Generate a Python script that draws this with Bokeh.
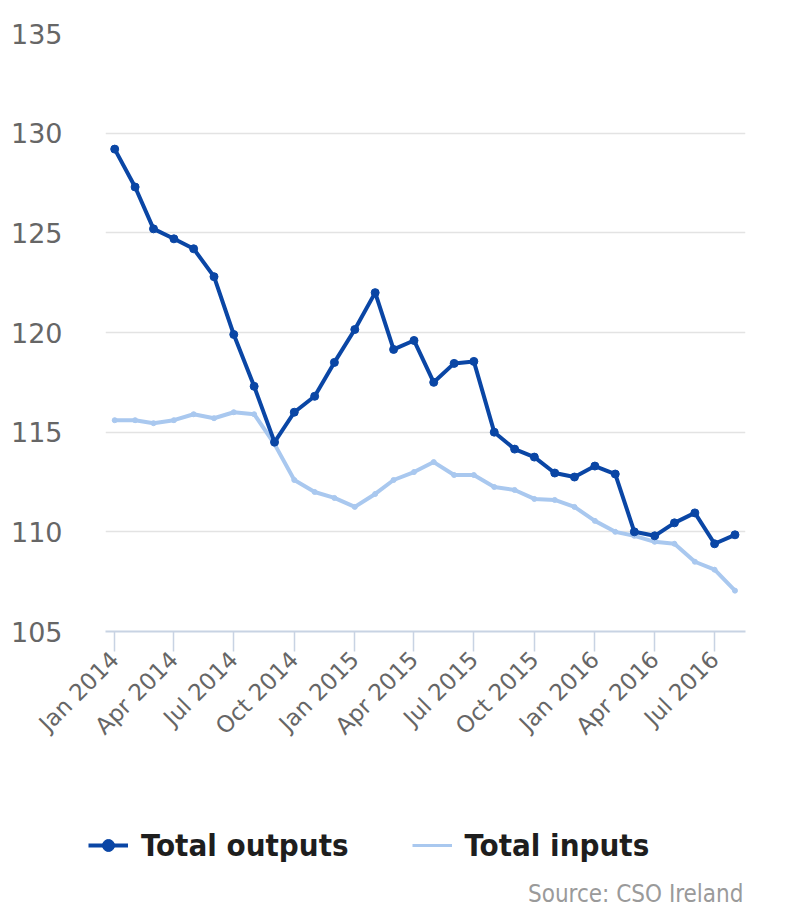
import math
from datetime import datetime
import pandas as pd
from bokeh.plotting import figure
from bokeh.layouts import column, row
from bokeh.models import (ColumnDataSource, Range1d, MonthsTicker, DatetimeTickFormatter,
                          SingleIntervalTicker, Legend, LegendItem, Label)
from bokeh.embed import file_html
from bokeh.resources import INLINE

# ---- data ----
months = pd.date_range("2014-01-01", periods=32, freq="MS")
total_outputs = [129.2, 127.3, 125.2, 124.7, 124.2, 122.8, 119.9, 117.3, 114.5, 116.0,
                 116.8, 118.5, 120.15, 122.0, 119.15, 119.6, 117.5, 118.45, 118.55, 115.0,
                 114.15, 113.75, 112.95, 112.75, 113.3, 112.9, 110.0, 109.8, 110.45, 110.95,
                 109.4, 109.85]
total_inputs = [115.6, 115.6, 115.45, 115.6, 115.9, 115.7, 116.0, 115.9, 114.4, 112.6,
                112.0, 111.7, 111.25, 111.9, 112.6, 113.0, 113.5, 112.85, 112.85, 112.25,
                112.1, 111.65, 111.6, 111.25, 110.55, 110.0, 109.8, 109.5, 109.4, 108.5,
                108.1, 107.05]
series_names = ["Total outputs", "Total inputs"]
source_text = "Source: CSO Ireland"

dark = "#0a46a5"
light = "#a9c8ef"
grey = "#666666"

src = ColumnDataSource(dict(x=months, out=total_outputs, inp=total_inputs))

p = figure(width=782, height=790, output_backend="svg", toolbar_location=None,
           x_axis_type="datetime",
           x_range=Range1d(datetime(2013, 12, 18), datetime(2016, 8, 17)),
           y_range=Range1d(105, 135),
           min_border_left=105, min_border_right=37, min_border_top=33, min_border_bottom=159)
p.outline_line_color = None
p.background_fill_color = "white"
p.border_fill_color = "white"

# grid
p.xgrid.grid_line_color = None
p.ygrid.grid_line_color = "#e3e3e3"
p.ygrid.grid_line_width = 1.5

# y axis
p.yaxis.ticker = SingleIntervalTicker(interval=5)
p.yaxis.axis_line_color = None
p.yaxis.major_tick_line_color = None
p.yaxis.minor_tick_line_color = None
p.yaxis.major_label_standoff = 37
p.yaxis.major_label_text_font = "DejaVu Sans"
p.yaxis.major_label_text_font_size = "27px"
p.yaxis.major_label_text_color = grey

# x axis
p.xaxis.ticker = MonthsTicker(months=[0, 3, 6, 9])
p.xaxis.formatter = DatetimeTickFormatter(months="%b %Y", days="%b %Y")
p.xaxis.axis_line_color = "#c8d3e3"
p.xaxis.axis_line_width = 2
p.xaxis.major_tick_line_color = "#c8d3e3"
p.xaxis.major_tick_line_width = 1.5
p.xaxis.major_tick_out = 20
p.xaxis.major_tick_in = 0
p.xaxis.minor_tick_line_color = None
p.xaxis.major_label_orientation = math.pi / 4
p.xaxis.major_label_standoff = 4
p.xaxis.major_label_text_font = "DejaVu Sans"
p.xaxis.major_label_text_font_size = "23px"
p.xaxis.major_label_text_color = grey

# series
p.line("x", "inp", source=src, line_color=light, line_width=4)
p.scatter("x", "inp", source=src, size=5, fill_color=light, line_color=light)
p.line("x", "out", source=src, line_color=dark, line_width=4)
p.scatter("x", "out", source=src, size=8, fill_color=dark, line_color=dark)

# ---- legend + source strip ----
q = figure(width=782, height=124, output_backend="svg", toolbar_location=None,
           x_range=Range1d(0, 1), y_range=Range1d(0, 1),
           min_border_left=0, min_border_right=0, min_border_top=0, min_border_bottom=0)
q.outline_line_color = None
q.axis.visible = False
q.grid.visible = False
nan = [float("nan")]
lo = q.line(x=nan, y=nan, line_color=dark, line_width=4)
so = q.scatter(x=nan, y=nan, size=7, fill_color=dark, line_color=dark)
li = q.line(x=nan, y=nan, line_color=light, line_width=3)

legend = Legend(items=[LegendItem(label=series_names[0], renderers=[lo, so]),
                       LegendItem(label=series_names[1], renderers=[li])],
                orientation="horizontal", location=(88, 51),
                padding=0, margin=0, border_line_color=None, background_fill_alpha=0,
                glyph_width=40, glyph_height=30, label_height=30, label_standoff=13,
                spacing=63, label_text_font="DejaVu Sans Condensed",
                label_text_font_style="bold", label_text_font_size="31px",
                label_text_color="#1e1e1e")
q.add_layout(legend)

q.add_layout(Label(x=743, y=21, x_units="screen", y_units="screen", text=source_text,
                   text_align="right", text_baseline="middle",
                   text_font="DejaVu Sans Condensed", text_font_size="24px",
                   text_color="#9a9a9a"))

open("out.html", "w").write(file_html(column(p, row(q), spacing=0), INLINE))
